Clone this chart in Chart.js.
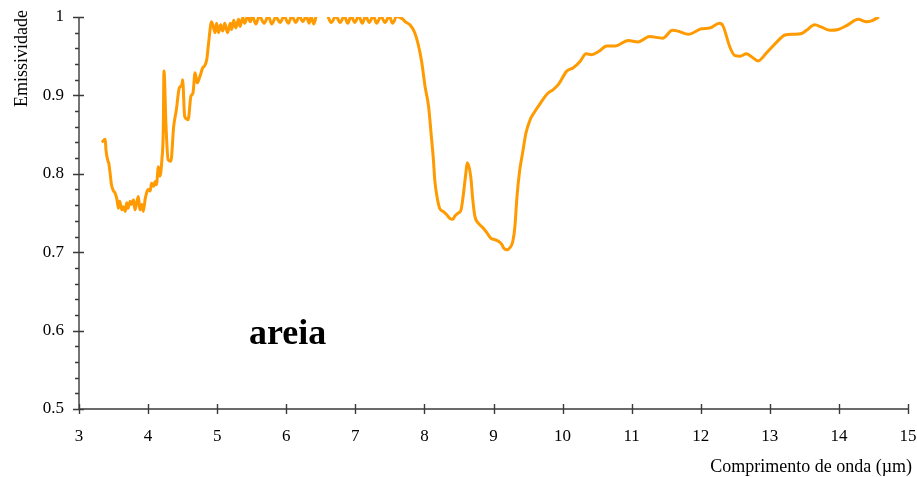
<!DOCTYPE html>
<html>
<head>
<meta charset="utf-8">
<script src="https://cdn.jsdelivr.net/npm/chart.js@4"></script>
<style>
	html, body { margin: 0; padding: 0; background: #fff; }
	canvas { display: block; }
</style>
</head>
<body>
<canvas id="emissivity-chart" width="917" height="477"></canvas>
<script>
'use strict';

// Sand emissivity spectrum, wavelength in µm
var wavelength = [
	3.33, 3.38, 3.39, 3.42, 3.43, 3.45, 3.47, 3.50, 3.52, 3.55, 3.57, 3.59, 3.62, 3.64, 3.67, 3.69,
	3.71, 3.74, 3.76, 3.79, 3.81, 3.84, 3.86, 3.88, 3.91, 3.93, 3.96, 3.98, 4.00, 4.03, 4.05, 4.08,
	4.10, 4.12, 4.15, 4.17, 4.20, 4.22, 4.23, 4.26, 4.29, 4.33, 4.37, 4.41, 4.45, 4.49, 4.50, 4.53,
	4.58, 4.62, 4.65, 4.68, 4.71, 4.75, 4.79, 4.82, 4.85, 4.87, 4.91, 4.92, 4.97, 4.99, 5.02, 5.05,
	5.08, 5.11, 5.15, 5.19, 5.21, 5.24, 5.27, 5.31, 5.33, 5.37, 5.40, 5.44, 5.48, 5.51, 5.56, 5.61,
	5.68, 5.74, 5.79, 5.85, 5.91, 5.97, 6.03, 6.08, 6.14, 6.19, 6.24, 6.29, 6.33, 6.36, 6.40, 6.44,
	6.52, 6.59, 6.65, 6.72, 6.78, 6.84, 6.89, 6.94, 6.99, 7.05, 7.10, 7.15, 7.20, 7.26, 7.31, 7.37,
	7.43, 7.49, 7.54, 7.60, 7.65, 7.69, 7.72, 7.79, 7.86, 7.91, 7.96, 8.01, 8.06, 8.10, 8.13, 8.15,
	8.19, 8.22, 8.27, 8.32, 8.37, 8.41, 8.44, 8.49, 8.53, 8.56, 8.60, 8.62, 8.67, 8.70, 8.73, 8.78,
	8.85, 8.91, 8.96, 9.02, 9.07, 9.12, 9.15, 9.19, 9.24, 9.28, 9.31, 9.34, 9.38, 9.42, 9.47, 9.53,
	9.58, 9.67, 9.79, 9.86, 9.94, 10.06, 10.15, 10.25, 10.34, 10.42, 10.52, 10.64, 10.76, 10.95, 11.09, 11.26,
	11.45, 11.59, 11.67, 11.82, 12.01, 12.13, 12.27, 12.32, 12.42, 12.49, 12.57, 12.66, 12.74, 12.83, 12.95, 13.10,
	13.22, 13.34, 13.46, 13.53, 13.65, 13.75, 13.87, 13.99, 14.11, 14.28, 14.40, 14.47, 14.58
];
var emissivity = [
	0.840, 0.844, 0.831, 0.816, 0.814, 0.801, 0.786, 0.778, 0.776, 0.767, 0.756, 0.765, 0.754, 0.758, 0.752, 0.763,
	0.756, 0.765, 0.761, 0.767, 0.754, 0.765, 0.771, 0.754, 0.761, 0.752, 0.769, 0.776, 0.780, 0.778, 0.788, 0.784,
	0.790, 0.786, 0.809, 0.797, 0.818, 0.856, 0.931, 0.860, 0.818, 0.816, 0.860, 0.882, 0.909, 0.914, 0.920, 0.873,
	0.869, 0.899, 0.903, 0.929, 0.916, 0.924, 0.935, 0.938, 0.946, 0.962, 0.992, 0.994, 0.980, 0.992, 0.980, 0.990,
	0.982, 0.992, 0.980, 0.992, 0.984, 0.996, 0.986, 0.997, 0.988, 0.999, 0.992, 1.001, 0.994, 1.001, 0.991, 1.001,
	0.992, 1.001, 0.991, 1.000, 0.993, 1.001, 0.992, 1.001, 0.993, 1.001, 0.994, 1.001, 0.992, 1.000, 0.991, 1.003,
	1.006, 1.003, 0.993, 1.001, 0.993, 1.001, 0.992, 1.001, 0.993, 1.001, 0.992, 1.001, 0.993, 1.001, 0.992, 1.001,
	0.993, 1.001, 0.992, 1.001, 0.999, 0.997, 0.994, 0.990, 0.980, 0.965, 0.943, 0.911, 0.886, 0.848, 0.818, 0.792,
	0.767, 0.756, 0.752, 0.748, 0.743, 0.742, 0.746, 0.750, 0.754, 0.771, 0.801, 0.814, 0.797, 0.767, 0.746, 0.737,
	0.731, 0.724, 0.718, 0.716, 0.714, 0.710, 0.705, 0.703, 0.706, 0.714, 0.733, 0.771, 0.805, 0.826, 0.852, 0.869,
	0.877, 0.889, 0.903, 0.907, 0.914, 0.931, 0.935, 0.943, 0.953, 0.952, 0.956, 0.963, 0.963, 0.970, 0.968, 0.975,
	0.973, 0.983, 0.982, 0.978, 0.985, 0.986, 0.992, 0.989, 0.962, 0.951, 0.950, 0.953, 0.949, 0.944, 0.954, 0.968,
	0.977, 0.978, 0.979, 0.983, 0.990, 0.987, 0.983, 0.984, 0.989, 0.997, 0.994, 0.995, 1.000
];

var xTicks = [3, 4, 5, 6, 7, 8, 9, 10, 11, 12, 13, 14, 15];
var yTicks = [0.5, 0.6, 0.7, 0.8, 0.9, 1];
var yMinorTicks = [0.52, 0.54, 0.56, 0.58, 0.62, 0.64, 0.66, 0.68, 0.72, 0.74, 0.76, 0.78,
	0.82, 0.84, 0.86, 0.88, 0.92, 0.94, 0.96, 0.98];

var xTitle = 'Comprimento de onda (µm)';
var yTitle = 'Emissividade';
var sampleName = 'areia';

var serif = '"Liberation Serif", "Times New Roman", serif';

var points = wavelength.map(function(w, i) {
	return { x: w, y: emissivity[i] };
});

// Axis lines with ticks crossing them, plus titles and the sample label
var axesPlugin = {
	id: 'crossedAxes',
	afterDraw: function(chart) {
		var ctx = chart.ctx;
		var area = chart.chartArea;
		var xs = chart.scales.x;
		var ys = chart.scales.y;

		ctx.save();
		ctx.strokeStyle = '#3a3a3a';
		ctx.lineWidth = 1.4;
		ctx.beginPath();
		ctx.moveTo(area.left, area.top);
		ctx.lineTo(area.left, area.bottom);
		ctx.lineTo(area.right, area.bottom);

		yTicks.forEach(function(v) {
			var py = Math.round(ys.getPixelForValue(v)) + 0.5;
			ctx.moveTo(area.left - 6, py);
			ctx.lineTo(area.left + 5, py);
		});
		yMinorTicks.forEach(function(v) {
			var py = Math.round(ys.getPixelForValue(v)) + 0.5;
			ctx.moveTo(area.left - 4, py);
			ctx.lineTo(area.left, py);
		});
		xTicks.forEach(function(v) {
			var px = Math.round(xs.getPixelForValue(v)) + 0.5;
			ctx.moveTo(px, area.bottom - 5);
			ctx.lineTo(px, area.bottom + 5);
		});
		ctx.stroke();

		ctx.fillStyle = '#000';
		ctx.font = '18px ' + serif;
		ctx.textBaseline = 'alphabetic';
		ctx.textAlign = 'right';
		ctx.fillText(xTitle, 912, 472);

		ctx.save();
		ctx.translate(26.5, 10);
		ctx.rotate(-Math.PI / 2);
		ctx.textAlign = 'right';
		ctx.fillText(yTitle, 0, 0);
		ctx.restore();

		ctx.font = 'bold 36px ' + serif;
		ctx.textAlign = 'center';
		ctx.fillText(sampleName, xs.getPixelForValue(6.02), ys.getPixelForValue(0.583));
		ctx.restore();
	}
};

new Chart(document.getElementById('emissivity-chart'), {
	type: 'line',
	data: {
		datasets: [ {
			data: points,
			borderColor: '#ff9a00',
			borderWidth: 3,
			pointRadius: 0,
			fill: false,
			cubicInterpolationMode: 'monotone'
		} ]
	},
	options: {
		responsive: false,
		animation: false,
		layout: {
			padding: { top: 17, right: 9, left: 0, bottom: 0 }
		},
		plugins: {
			legend: { display: false },
			tooltip: { enabled: false }
		},
		scales: {
			x: {
				type: 'linear',
				min: 3,
				max: 15,
				grid: { display: false, drawTicks: false },
				border: { display: false },
				afterBuildTicks: function(scale) {
					scale.ticks = xTicks.map(function(v) { return { value: v }; });
				},
				afterFit: function(scale) {
					scale.height = 68;
					scale.paddingLeft = 0;
					scale.paddingRight = 0;
				},
				ticks: {
					color: '#000',
					font: { family: serif, size: 17 },
					padding: 17,
					maxRotation: 0,
					autoSkip: false,
					callback: function(v) { return String(v); }
				}
			},
			y: {
				min: 0.5,
				max: 1,
				grid: { display: false, drawTicks: false },
				border: { display: false },
				afterBuildTicks: function(scale) {
					scale.ticks = yTicks.map(function(v) { return { value: v }; });
				},
				afterFit: function(scale) {
					scale.width = 79;
					scale.paddingTop = 0;
					scale.paddingBottom = 0;
				},
				ticks: {
					color: '#000',
					font: { family: serif, size: 17 },
					padding: 15,
					autoSkip: false,
					callback: function(v) { return String(v); }
				}
			}
		}
	},
	plugins: [ axesPlugin ]
});
</script>
</body>
</html>
